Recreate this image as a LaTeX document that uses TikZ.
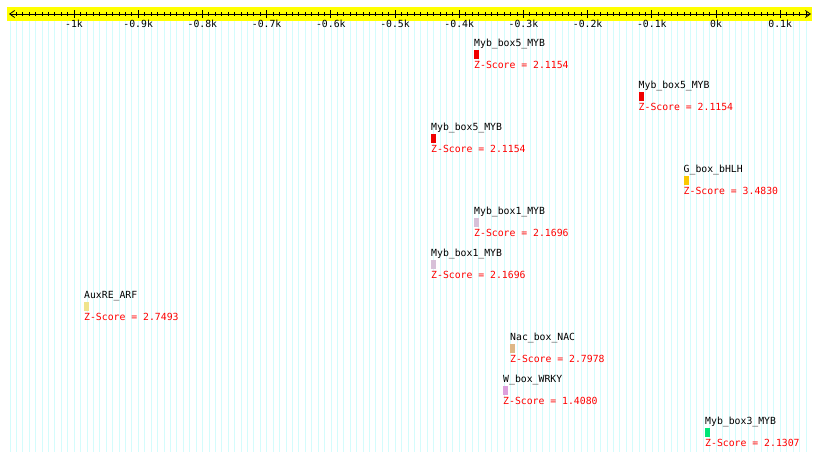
\documentclass[tikz,border=0pt]{standalone}
\usepackage{fontspec}
\setmonofont{DejaVu Sans Mono}
\usepackage{xcolor}
\usetikzlibrary{arrows.meta}
\definecolor{gridcyan}{RGB}{212,252,252}
\definecolor{bandyellow}{RGB}{255,255,0}
\definecolor{mybred}{RGB}{240,0,0}
\definecolor{mybone}{RGB}{216,192,216}
\definecolor{mybthree}{RGB}{0,230,120}
\definecolor{bhlhgold}{RGB}{250,200,0}
\definecolor{arfkhaki}{RGB}{240,228,140}
\definecolor{nactan}{RGB}{222,184,135}
\definecolor{wrkyplum}{RGB}{221,160,221}

\begin{document}
\begin{tikzpicture}[x=1pt, y=-1pt,
    motif/.style={
        rectangle, fill=#1, minimum width=5pt, minimum height=9pt,
        inner sep=0pt, anchor=north west
    },
    mname/.style={font=\ttfamily\fontsize{9.8}{11}\selectfont, inner sep=0pt, anchor=base west, text=black},
    zscore/.style={mname, text=red},
    tlabel/.style={font=\ttfamily\fontsize{9.8}{11}\selectfont, inner sep=0pt, anchor=base},
    axisline/.style={line width=0.8pt, {Straight Barb[length=5pt,width=7pt]}-{Straight Barb[length=5pt,width=7pt]}}
]

% Canvas
\fill[white] (0,0) rectangle (820,461);
\useasboundingbox (0,0) rectangle (820,461);

% Grid
\foreach \i in {0,...,124}
    \draw[gridcyan, line width=0.6pt] ({9.8+6.42*\i},21) -- ({9.8+6.42*\i},452);

% Ruler band
\fill[bandyellow] (7,7) rectangle (812,21);
\coordinate (axL) at (9,14);
\coordinate (axR) at (811,14);
\draw[axisline] (axL) -- (axR);

% Ticks
\foreach \i in {1,...,124}
    \draw[line width=0.7pt] ({9.8+6.42*\i},12) -- ({9.8+6.42*\i},16.3);
\foreach \i/\t in {10/-1k,20/-0.9k,30/-0.8k,40/-0.7k,50/-0.6k,60/-0.5k,70/-0.4k,80/-0.3k,90/-0.2k,100/-0.1k,110/0k,120/0.1k} {
    \draw[line width=0.7pt] ({9.8+6.42*\i},10) -- ({9.8+6.42*\i},18.3);
    \node[tlabel] (t\i) at ({9.8+6.42*\i},27.3) {\t};
}

% Myb_box5_MYB
\node[mname] (m1name) at (474,46.7) {Myb\_box5\_MYB};
\node[motif=mybred] (m1box) at (474,50) {};
\node[zscore] (m1z) at (474,68.5) {Z-Score = 2.1154};

\node[mname] (m2name) at (638.5,88.7) {Myb\_box5\_MYB};
\node[motif=mybred] (m2box) at (638.5,92) {};
\node[zscore] (m2z) at (638.5,110.5) {Z-Score = 2.1154};

\node[mname] (m3name) at (431,130.7) {Myb\_box5\_MYB};
\node[motif=mybred] (m3box) at (431,134) {};
\node[zscore] (m3z) at (431,152.5) {Z-Score = 2.1154};

% G_box_bHLH
\node[mname] (m4name) at (683.5,172.7) {G\_box\_bHLH};
\node[motif=bhlhgold] (m4box) at (683.5,176) {};
\node[zscore] (m4z) at (683.5,194.5) {Z-Score = 3.4830};

% Myb_box1_MYB
\node[mname] (m5name) at (474,214.7) {Myb\_box1\_MYB};
\node[motif=mybone] (m5box) at (474,218) {};
\node[zscore] (m5z) at (474,236.5) {Z-Score = 2.1696};

\node[mname] (m6name) at (431,256.7) {Myb\_box1\_MYB};
\node[motif=mybone] (m6box) at (431,260) {};
\node[zscore] (m6z) at (431,278.5) {Z-Score = 2.1696};

% AuxRE_ARF
\node[mname] (m7name) at (84,298.7) {AuxRE\_ARF};
\node[motif=arfkhaki] (m7box) at (84,302) {};
\node[zscore] (m7z) at (84,320.5) {Z-Score = 2.7493};

% Nac_box_NAC
\node[mname] (m8name) at (510,340.7) {Nac\_box\_NAC};
\node[motif=nactan] (m8box) at (510,344) {};
\node[zscore] (m8z) at (510,362.5) {Z-Score = 2.7978};

% W_box_WRKY
\node[mname] (m9name) at (503,382.7) {W\_box\_WRKY};
\node[motif=wrkyplum] (m9box) at (503,386) {};
\node[zscore] (m9z) at (503,404.5) {Z-Score = 1.4080};

% Myb_box3_MYB
\node[mname] (m10name) at (705,424.7) {Myb\_box3\_MYB};
\node[motif=mybthree] (m10box) at (705,428) {};
\node[zscore] (m10z) at (705,446.5) {Z-Score = 2.1307};

\end{tikzpicture}
\end{document}
